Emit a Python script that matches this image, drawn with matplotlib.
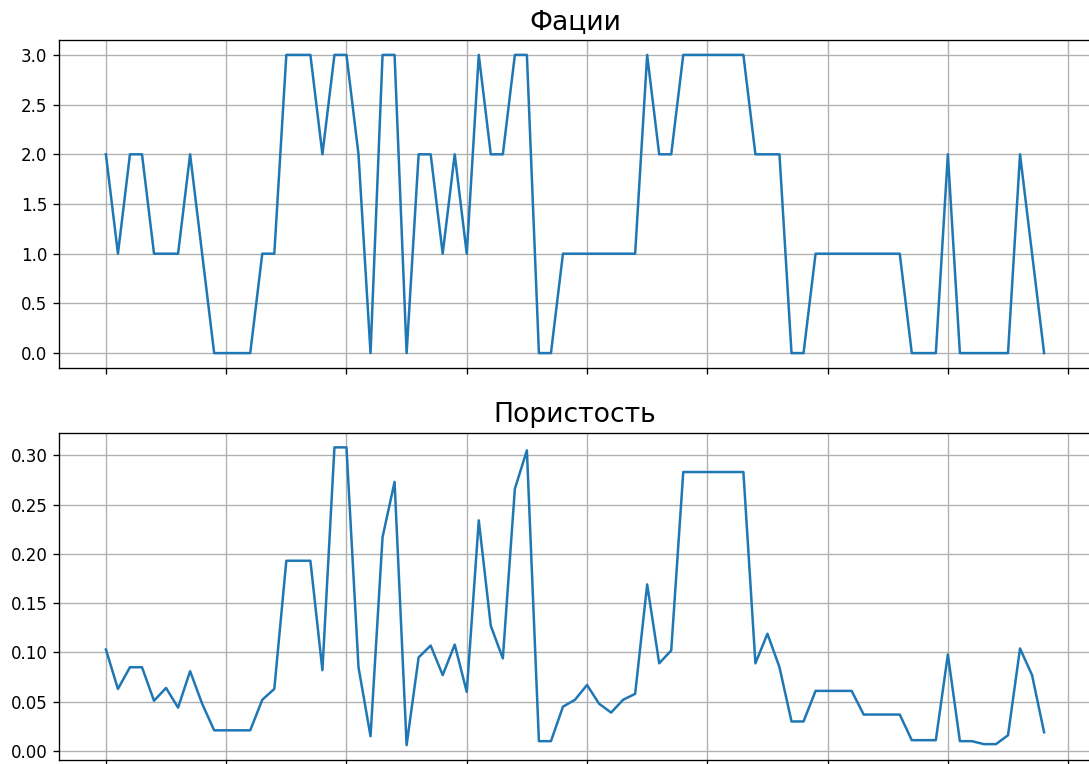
import numpy as np
import matplotlib
matplotlib.use("Agg")
import matplotlib.pyplot as plt

# Facies code and porosity along the well, one value per sample
facies = [2, 1, 2, 2, 1, 1, 1, 2, 1, 0,
          0, 0, 0, 1, 1, 3, 3, 3, 2, 3,
          3, 2, 0, 3, 3, 0, 2, 2, 1, 2,
          1, 3, 2, 2, 3, 3, 0, 0, 1, 1,
          1, 1, 1, 1, 1, 3, 2, 2, 3, 3,
          3, 3, 3, 3, 2, 2, 2, 0, 0, 1,
          1, 1, 1, 1, 1, 1, 1, 0, 0, 0,
          2, 0, 0, 0, 0, 0, 2, 1, 0]

porosity = [0.103, 0.063, 0.085, 0.085, 0.051, 0.064, 0.044, 0.081, 0.048, 0.021,
            0.021, 0.021, 0.021, 0.052, 0.063, 0.193, 0.193, 0.193, 0.082, 0.308,
            0.308, 0.085, 0.015, 0.217, 0.273, 0.006, 0.095, 0.107, 0.077, 0.108,
            0.060, 0.234, 0.127, 0.094, 0.266, 0.305, 0.010, 0.010, 0.045, 0.052,
            0.067, 0.048, 0.039, 0.052, 0.058, 0.169, 0.089, 0.102, 0.283, 0.283,
            0.283, 0.283, 0.283, 0.283, 0.089, 0.119, 0.085, 0.030, 0.030, 0.061,
            0.061, 0.061, 0.061, 0.037, 0.037, 0.037, 0.037, 0.011, 0.011, 0.011,
            0.098, 0.010, 0.010, 0.007, 0.007, 0.016, 0.104, 0.077, 0.019]

titles = ["Фации", "Пористость"]

x = np.arange(len(facies))

fig, axes = plt.subplots(2, 1, sharex=True, figsize=(1089 / 120, 764 / 120), dpi=120)

for ax, y, title in zip(axes, [facies, porosity], titles):
    ax.plot(x, y)
    ax.set_title(title, fontsize=16)
    ax.grid(True)
    # right edge of the panels lies at the border of the canvas
    ax.spines["right"].set_visible(False)

axes[1].set_xticks(np.arange(0, 81, 10))
# sample numbers would sit below the canvas, keep only the tick marks
axes[1].tick_params(axis="x", labelbottom=False)

axes[0].set_position([59 / 1089, (764 - 368) / 764, 1032 / 1089, 328 / 764])
axes[1].set_position([59 / 1089, (764 - 760) / 764, 1032 / 1089, 327.5 / 764])

fig.savefig("out.png", dpi=120)
